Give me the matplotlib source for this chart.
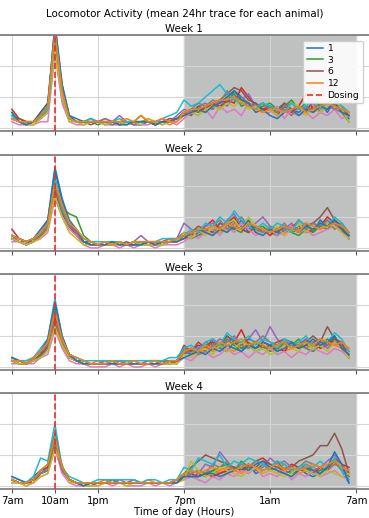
import matplotlib
matplotlib.use("Agg")
from matplotlib import pyplot as plt

# half-hour bins starting at 7am (hours since 7am)
hours = [i * 0.5 for i in range(48)]
tick_pos = [0, 3, 6, 12, 18, 24]
tick_labels = ["7am", "10am", "1pm", "7pm", "1am", "7am"]
dose_hour = 3
legend_animals = [1, 3, 6, 12]

# mean activity per animal (12 animals per week)
week1 = [
    [5,2,1,2,4,6,34,14,4,2,2,3, 2,2,1,2,2,1,1,2,1,2,2,3, 5,5,6,7,6,9,8,12,10,7,8,6, 7,5,8,6,5,7,6,8,5,9,6,3],
    [4,2,2,1,3,5,28,10,3,2,1,2, 2,3,2,2,1,2,2,3,2,2,1,2, 4,6,6,5,7,8,10,9,8,8,6,7, 6,5,6,5,4,6,7,6,6,8,7,5],
    [3,2,1,2,4,7,32,12,3,2,2,2, 1,2,2,1,2,2,4,2,1,2,2,3, 5,6,5,7,8,6,9,11,7,8,6,7, 8,6,7,9,6,8,12,7,8,10,5,2],
    [6,3,2,2,5,8,30,13,3,2,2,2, 2,1,2,1,2,2,2,2,1,2,3,3, 4,5,6,6,8,7,9,8,13,10,7,6, 6,4,7,5,7,11,6,7,8,7,6,4],
    [3,2,2,2,3,5,26,9,3,2,2,2, 2,3,2,4,2,2,2,2,2,3,2,4, 6,5,7,8,6,9,7,10,9,11,7,8, 6,5,6,4,7,6,8,5,7,6,5,4],
    [4,3,2,2,4,7,29,11,3,2,2,1, 2,2,2,1,2,1,2,2,1,2,2,3, 5,4,7,6,8,9,11,13,12,9,8,6, 7,6,8,6,7,5,9,7,6,8,6,4],
    [2,1,1,1,2,2,24,8,2,1,1,2, 2,1,1,1,2,1,1,1,2,1,2,1, 3,5,4,6,3,7,5,6,4,8,6,5, 5,7,3,6,4,5,3,5,4,6,3,4],
    [3,2,1,2,3,6,27,11,3,2,2,2, 2,2,1,2,2,1,2,2,2,2,2,3, 5,6,8,7,9,8,12,9,10,8,7,8, 6,5,7,8,6,7,5,7,8,6,7,5],
    [3,2,1,1,3,5,25,10,2,2,1,2, 2,1,2,2,1,2,1,3,2,1,2,2, 4,5,4,6,7,6,8,7,9,6,7,5, 6,4,5,8,7,4,6,5,7,9,6,2],
    [4,2,2,2,4,6,30,12,3,2,2,3, 2,2,2,3,2,2,2,2,2,3,4,5, 9,7,8,10,12,14,11,9,8,7,6,8, 7,6,5,8,6,7,9,6,8,10,7,5],
    [5,2,1,2,5,8,33,14,4,3,2,2, 2,2,2,1,1,2,2,2,1,2,2,3, 4,5,6,5,7,8,10,12,9,8,5,6, 4,3,5,6,4,6,5,7,6,8,5,4],
    [3,2,2,2,4,7,31,12,3,2,2,2, 2,2,2,2,3,2,4,2,2,3,2,2, 5,6,6,7,8,9,9,10,8,7,6,5, 6,6,5,6,7,5,6,7,8,7,6,5],
]

week2 = [
    [3,2,1,3,5,9,25,15,8,5,2,2, 1,1,2,1,1,2,1,2,2,1,2,3, 5,4,5,6,5,8,7,6,9,5,7,6, 6,4,7,5,6,8,5,9,7,8,6,3],
    [4,3,2,3,4,7,20,13,7,5,2,1, 1,2,1,2,1,1,2,1,2,2,3,2, 4,5,6,5,4,7,5,8,6,7,5,6, 5,6,4,7,6,5,6,8,7,9,7,4],
    [3,2,1,2,4,6,22,13,11,10,4,2, 1,1,2,1,1,1,2,1,1,2,2,2, 4,3,4,5,6,5,7,6,5,8,6,7, 5,4,6,5,4,6,5,7,6,9,7,4],
    [6,3,2,2,4,6,19,12,7,4,2,1, 1,1,1,2,1,1,1,2,1,2,2,2, 3,4,5,7,9,6,8,10,6,5,7,6, 4,6,5,7,8,5,6,7,10,8,6,3],
    [4,2,2,3,5,7,21,12,8,6,2,1, 1,2,1,2,1,2,4,2,2,2,3,3, 8,6,5,7,8,6,9,11,7,6,8,10, 7,5,6,8,5,7,8,6,9,7,8,5],
    [3,2,1,2,4,6,18,11,7,5,2,1, 1,1,1,1,2,1,1,1,1,1,2,2, 4,5,7,6,5,8,7,9,6,5,7,5, 6,5,7,6,9,7,8,10,13,9,7,3],
    [2,2,1,2,3,5,16,10,6,4,1,0, 0,1,1,0,1,0,1,1,0,1,1,1, 2,4,3,5,6,4,7,5,8,6,4,5, 6,4,5,7,5,6,4,5,6,7,5,3],
    [3,2,1,2,4,7,20,12,7,5,2,1, 1,1,1,2,1,1,1,2,1,2,2,2, 4,5,4,6,7,9,6,8,10,7,6,5, 7,6,8,5,7,6,8,7,9,6,8,4],
    [3,2,1,2,3,6,17,10,5,3,1,1, 1,1,1,1,1,2,1,1,1,1,2,2, 5,3,6,4,7,5,8,9,6,10,7,6, 5,7,4,6,8,5,7,6,8,7,5,3],
    [4,3,2,3,5,8,23,13,8,6,3,2, 2,2,2,2,1,2,2,2,2,3,3,3, 4,6,5,8,7,10,8,12,9,7,6,8, 6,8,7,5,9,7,6,8,7,10,8,4],
    [4,3,2,3,6,9,26,16,9,6,2,1, 1,1,2,1,1,1,1,2,1,2,2,2, 3,5,6,5,4,6,5,7,6,9,5,4, 6,5,7,6,5,7,6,8,7,9,6,4],
    [4,3,2,3,5,8,21,14,8,6,3,2, 1,2,1,2,1,2,2,2,2,2,2,3, 4,5,6,6,7,6,8,7,6,8,7,6, 5,6,7,6,5,8,7,6,7,8,7,5],
]

week3 = [
    [2,1,1,2,4,8,19,9,4,2,2,1, 1,1,1,2,1,1,1,1,1,2,1,2, 5,4,6,5,7,6,5,8,6,7,5,6, 7,5,8,6,7,9,6,8,7,10,6,3],
    [2,2,2,3,5,7,17,8,4,2,1,1, 2,1,2,1,2,1,1,2,2,1,2,2, 5,5,4,6,5,7,6,5,7,6,8,7, 6,7,5,6,8,7,6,7,8,7,6,6],
    [2,1,1,2,4,6,15,7,3,2,1,1, 1,1,1,1,1,1,1,1,1,2,1,2, 4,6,5,7,8,6,9,7,5,8,6,7, 5,6,8,7,9,6,5,7,9,8,6,4],
    [3,2,1,2,3,7,16,8,3,2,1,1, 1,1,1,1,1,1,1,1,1,1,2,1, 6,5,7,6,8,7,10,8,12,7,6,8, 7,6,5,8,6,7,8,6,7,9,7,3],
    [2,2,1,3,5,7,18,9,4,3,2,1, 1,2,1,2,1,2,1,2,2,2,2,2, 4,5,6,8,7,9,8,10,7,9,12,8, 13,9,7,8,6,9,7,8,6,8,7,5],
    [2,1,1,2,4,6,14,7,3,2,1,1, 1,1,1,1,1,1,1,1,1,1,2,2, 7,5,8,6,9,7,10,8,7,9,8,6, 7,8,9,7,6,8,10,8,13,9,8,3],
    [1,1,1,1,3,4,12,6,2,1,1,0, 0,0,1,0,1,0,0,1,0,1,1,1, 3,2,4,5,3,4,6,4,5,3,5,4, 6,4,5,3,5,4,6,5,4,6,5,3],
    [2,1,1,2,3,6,15,8,3,2,1,1, 1,1,1,1,1,1,1,1,1,1,1,2, 5,6,4,5,7,6,8,9,7,6,8,10, 8,7,9,8,7,6,8,9,7,8,6,4],
    [2,1,1,2,3,5,13,7,3,2,1,1, 1,1,1,1,1,1,1,1,1,1,1,1, 4,3,5,6,4,7,5,6,8,7,5,6, 4,5,7,6,5,8,6,7,5,8,6,3],
    [3,2,2,3,6,9,22,10,4,3,2,2, 2,2,2,2,2,2,2,2,2,2,3,3, 6,7,5,8,9,7,11,9,8,10,7,9, 8,6,9,7,8,10,7,9,8,11,9,5],
    [3,2,1,3,5,9,21,10,4,2,1,1, 1,1,1,1,1,1,1,1,1,1,2,2, 3,4,5,4,6,5,7,6,5,7,6,8, 7,5,6,8,6,7,9,7,8,10,6,4],
    [2,2,1,3,5,8,18,9,4,3,2,1, 1,1,2,1,1,2,1,1,2,1,2,2, 5,6,5,7,6,8,7,8,9,7,8,7, 6,7,8,6,7,8,7,9,8,7,8,6],
]

week4 = [
    [2,1,1,3,5,6,16,5,2,1,1,1, 1,1,2,1,1,1,1,1,1,1,1,1, 4,3,3,4,5,4,5,6,5,7,4,5, 6,5,4,5,6,4,3,4,6,8,5,1],
    [2,1,1,2,4,6,15,6,2,1,0,1, 1,2,1,1,1,2,1,2,1,1,1,2, 3,4,5,4,3,5,4,5,4,6,5,4, 5,4,6,5,4,5,6,5,6,7,6,5],
    [2,1,1,2,4,5,14,5,2,1,0,0, 1,1,1,1,1,1,1,1,1,1,1,2, 3,5,4,3,5,6,7,5,8,6,5,7, 6,8,5,4,5,6,4,5,6,8,5,3],
    [2,1,1,1,4,5,13,5,2,1,1,1, 1,1,1,1,1,1,1,1,1,1,1,1, 3,4,3,4,3,4,5,6,5,6,8,9, 7,6,5,7,6,5,4,6,5,9,7,6],
    [2,1,1,2,4,6,15,5,2,1,1,0, 1,1,1,2,1,2,1,1,1,1,1,2, 4,3,4,7,6,11,8,5,6,7,5,6, 9,7,8,6,5,7,5,6,8,10,7,4],
    [2,1,1,2,5,6,14,6,2,1,0,1, 1,1,1,1,1,1,1,1,1,1,1,2, 4,6,8,10,9,8,7,6,5,7,6,8, 7,6,5,6,8,9,10,13,13,17,12,4],
    [1,1,0,1,3,4,12,4,1,0,0,0, 0,1,0,1,0,0,0,1,0,1,0,1, 2,3,2,1,3,2,4,3,5,4,6,3, 4,3,5,2,4,3,5,3,4,5,3,2],
    [2,1,1,2,4,5,14,5,2,1,1,1, 1,1,1,1,1,1,1,1,1,1,1,1, 3,4,5,4,7,6,8,5,7,6,8,7, 5,6,7,5,6,8,7,6,5,7,6,3],
    [1,1,0,1,3,4,12,7,1,1,0,0, 0,1,1,1,0,1,1,1,1,1,1,1, 2,8,5,3,4,6,5,4,3,5,6,4, 5,4,3,4,6,5,4,3,5,4,3,4],
    [3,2,1,3,9,8,20,6,3,2,1,1, 2,2,2,2,2,2,1,2,2,1,2,2, 6,5,9,8,7,10,6,8,7,9,8,7, 6,8,7,5,6,7,6,8,6,9,5,2],
    [3,2,1,2,5,7,17,6,2,1,0,1, 1,1,1,1,1,1,1,1,1,1,1,1, 3,3,3,4,4,3,4,5,6,5,7,8, 6,5,4,3,5,6,5,4,6,11,7,1],
    [2,1,1,2,5,7,16,6,2,1,1,1, 1,1,1,1,1,1,1,1,1,1,1,2, 4,5,4,5,6,5,6,5,6,7,6,5, 6,7,5,6,5,6,7,6,7,8,6,5],
]

weeks = [week1, week2, week3, week4]
week_names = ["Week 1", "Week 2", "Week 3", "Week 4"]

plt.rcParams["font.family"] = "DejaVu Sans"
plt.rcParams["font.size"] = 7.3

fig = plt.figure(figsize=(3.69, 5.18), dpi=100)
W, H = 369.0, 518.0
tops = [35, 155, 274, 393]
panel_h = 96
colors = plt.rcParams["axes.prop_cycle"].by_key()["color"]

fig.text(0.5, 1 - 14 / H, "Locomotor Activity (mean 24hr trace for each animal)",
         ha="center", va="center", fontsize=7.4)

for k, data in enumerate(weeks):
    ax = fig.add_axes([-1 / W, 1 - (tops[k] + panel_h) / H, 370 / W, panel_h / H])
    ax.axvspan(12, 24, color="#bfc0c0", zorder=0)
    for a, trace in enumerate(data):
        ax.plot(hours, trace, color=colors[a % 10], lw=1.1, label=str(a + 1), zorder=2)
    dose = ax.axvline(dose_hour, color="#e8302a", ls="--", lw=1.2, label="Dosing", zorder=3)

    ax.set_xlim(-0.9, 24.9)
    ax.set_ylim(-1, 30)
    ax.set_yticks([0, 10, 20, 30])
    ax.set_yticklabels([])
    ax.set_xticks(tick_pos)
    if k == 3:
        ax.set_xticklabels(tick_labels)
        ax.set_xlabel("Time of day (Hours)", labelpad=1)
    else:
        ax.set_xticklabels([])
    ax.tick_params(axis="x", length=3, width=0.8, color="#555555", pad=2)
    ax.tick_params(axis="y", length=0)
    ax.grid(True, color="#d5d5d5", lw=0.8)
    ax.set_axisbelow(True)
    for side in ["left", "right"]:
        ax.spines[side].set_visible(False)
    for side in ["top", "bottom"]:
        ax.spines[side].set_color("#777777")
        ax.spines[side].set_linewidth(1.2)
    ax.set_title(week_names[k], fontsize=7.4, pad=2)

    if k == 0:
        lines = ax.get_lines()
        handles = [lines[n - 1] for n in legend_animals] + [dose]
        ax.legend(handles, [str(n) for n in legend_animals] + ["Dosing"],
                  loc="upper right", fontsize=6.6, handlelength=1.8,
                  handletextpad=0.5, borderpad=0.35, labelspacing=0.3,
                  framealpha=0.9, edgecolor="#cccccc",
                  bbox_to_anchor=(0.995, 0.99))

fig.savefig("out.png", dpi=100)
